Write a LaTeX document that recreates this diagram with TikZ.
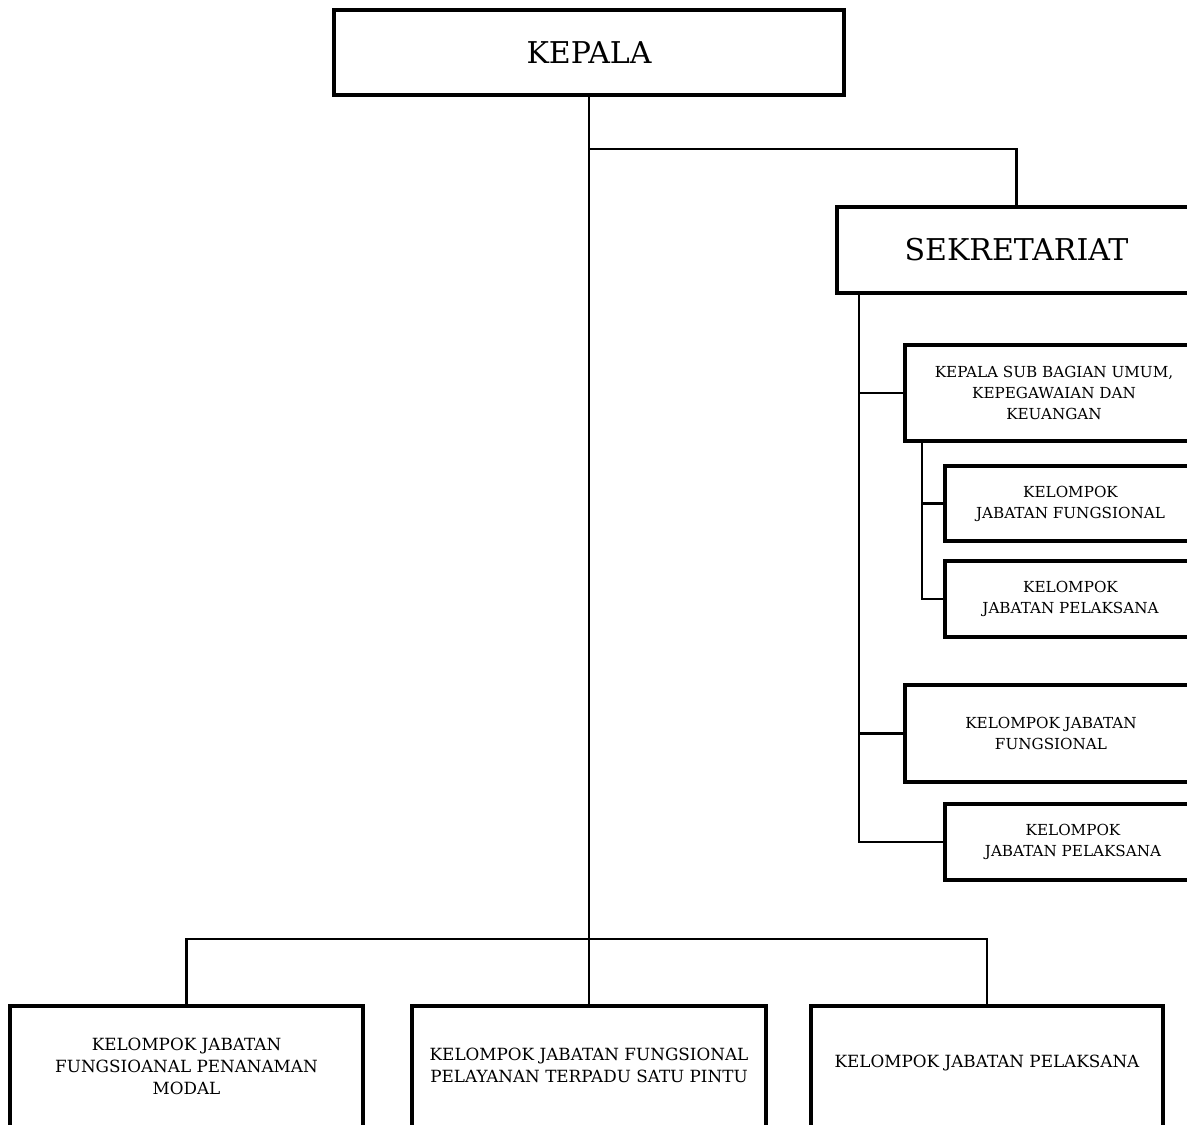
\documentclass[tikz,border=0pt]{standalone}
\usepackage{fontspec}
\setmainfont{DejaVu Serif}
\begin{document}
\begin{tikzpicture}[x=0.5pt,y=-0.5pt,
  box/.style={draw, line width=2pt, inner sep=0pt, align=center},
  big/.style={font=\fontsize{15}{18}\selectfont},
  small/.style={font=\fontsize{7.6}{10.5}\selectfont},
  mid/.style={font=\fontsize{8.4}{11}\selectfont},
  conn/.style={line width=1.3pt}]
\useasboundingbox (0,0) rectangle (1187,1124);
\clip (0,0) rectangle (1187,1124);
% boxes
\node[box,big,minimum width=510*0.5pt,minimum height=85*0.5pt] (kepala) at (589,52.5) {KEPALA};
\node[box,big,minimum width=359*0.5pt,minimum height=86*0.5pt] (sek) at (1016.5,250) {SEKRETARIAT};
\node[box,small,minimum width=298*0.5pt,minimum height=96*0.5pt] (ksb) at (1054,393) {KEPALA SUB BAGIAN UMUM,\\KEPEGAWAIAN DAN\\KEUANGAN};
\node[box,small,minimum width=251*0.5pt,minimum height=75*0.5pt] (kjfa) at (1070.5,503.5) {KELOMPOK\\JABATAN FUNGSIONAL};
\node[box,small,minimum width=251*0.5pt,minimum height=76*0.5pt] (kjpa) at (1070.5,599) {KELOMPOK\\JABATAN PELAKSANA};
\node[box,small,minimum width=292*0.5pt,minimum height=97*0.5pt] (kjfb) at (1051,733.5) {KELOMPOK JABATAN\\FUNGSIONAL};
\node[box,small,minimum width=256*0.5pt,minimum height=76*0.5pt] (kjpb) at (1073,842) {KELOMPOK\\JABATAN PELAKSANA};
\node[box,mid,minimum width=353*0.5pt,minimum height=132*0.5pt] (b1) at (186.5,1072) {};
\node[mid,align=center] (t1) at (186.5,1066) {KELOMPOK JABATAN\\FUNGSIOANAL PENANAMAN\\MODAL};
\node[box,mid,minimum width=354*0.5pt,minimum height=132*0.5pt] (b2) at (589,1072) {};
\node[mid,align=center] (t2) at (589,1065) {KELOMPOK JABATAN FUNGSIONAL\\PELAYANAN TERPADU SATU PINTU};
\node[box,mid,minimum width=352*0.5pt,minimum height=132*0.5pt] (b3) at (987,1072) {};
\node[mid,align=center] (t3) at (987,1063) {KELOMPOK JABATAN PELAKSANA};
% connectors
\coordinate (j1) at (589,149);
\coordinate (sv) at (859,295);
\coordinate (kv) at (922,443);
\draw[conn] (kepala.south) -- (b2.north);
\draw[conn] (j1) -| (sek.north);
\draw[conn] (b1.north) -- ++(0,-65) -| (b3.north);
\draw[conn] (sv) |- (ksb.west);
\draw[conn] (sv) |- (kjfb.west);
\draw[conn] (sv) |- (kjpb.west);
\draw[conn] (kv) |- (kjfa.west);
\draw[conn] (kv) |- (kjpa.west);
\end{tikzpicture}
\end{document}
